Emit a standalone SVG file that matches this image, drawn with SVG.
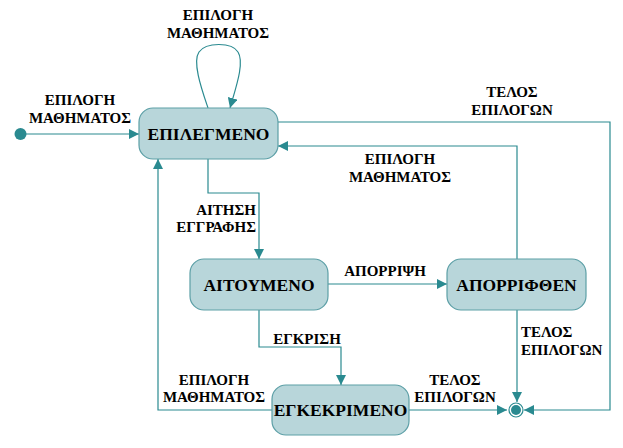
<svg xmlns="http://www.w3.org/2000/svg" width="623" height="448" viewBox="0 0 623 448">
<defs>
<marker id="arr" viewBox="0 0 10 10" refX="10" refY="5" markerWidth="10" markerHeight="10" markerUnits="userSpaceOnUse" orient="auto">
<path d="M0,0 L10,5 L0,10 Z" fill="#2a8a90"/>
</marker>
<style>
.node rect{fill:#b8d6da;stroke:#5c9fa6;stroke-width:1.2}
.nt{font-family:"Liberation Serif","Times New Roman",serif;font-weight:bold;font-size:17.5px;text-anchor:middle;fill:#000}
.lb{font-family:"Liberation Serif","Times New Roman",serif;font-weight:bold;font-size:15px;fill:#000}
.c{fill:none;stroke:#2a8a90;stroke-width:1.2}
.m{text-anchor:middle}
</style>
</defs>
<rect width="623" height="448" fill="#fff"/>
<g id="connectors">
<path class="c" d="M26,134 H139" marker-end="url(#arr)"/>
<path class="c" d="M208,108 C202,90 192,62 199,52 C206,42 232,42 238,52 C245,63 235,90 230,108" marker-end="url(#arr)"/>
<path class="c" d="M278,122 H610 V410 H524" marker-end="url(#arr)"/>
<path class="c" d="M517,259 V146 H278" marker-end="url(#arr)"/>
<path class="c" d="M208,159 V193 H259 V259" marker-end="url(#arr)"/>
<path class="c" d="M328,284 H447" marker-end="url(#arr)"/>
<path class="c" d="M259,310 V347 H341 V385" marker-end="url(#arr)"/>
<path class="c" d="M409,410 H507" marker-end="url(#arr)"/>
<path class="c" d="M517,310 V402" marker-end="url(#arr)"/>
<path class="c" d="M272,410 H158 V159" marker-end="url(#arr)"/>
</g>
<g id="labels">
<text class="lb m" x="218" y="20">ΕΠΙΛΟΓΗ</text>
<text class="lb m" x="218" y="38">ΜΑΘΗΜΑΤΟΣ</text>
<text class="lb m" x="80" y="105">ΕΠΙΛΟΓΗ</text>
<text class="lb m" x="80" y="123">ΜΑΘΗΜΑΤΟΣ</text>
<text class="lb m" x="512" y="97">ΤΕΛΟΣ</text>
<text class="lb m" x="512" y="115">ΕΠΙΛΟΓΩΝ</text>
<text class="lb m" x="400" y="164">ΕΠΙΛΟΓΗ</text>
<text class="lb m" x="400" y="182">ΜΑΘΗΜΑΤΟΣ</text>
<text class="lb" x="256" y="215" text-anchor="end">ΑΙΤΗΣΗ</text>
<text class="lb" x="256" y="232" text-anchor="end">ΕΓΓΡΑΦΗΣ</text>
<text class="lb m" x="385" y="276">ΑΠΟΡΡΙΨΗ</text>
<text class="lb m" x="307" y="344">ΕΓΚΡΙΣΗ</text>
<text class="lb" x="521" y="337">ΤΕΛΟΣ</text>
<text class="lb" x="521" y="355">ΕΠΙΛΟΓΩΝ</text>
<text class="lb m" x="455" y="385">ΤΕΛΟΣ</text>
<text class="lb m" x="455" y="402">ΕΠΙΛΟΓΩΝ</text>
<text class="lb m" x="214" y="385">ΕΠΙΛΟΓΗ</text>
<text class="lb m" x="214" y="402">ΜΑΘΗΜΑΤΟΣ</text>
</g>
<g id="initial"><circle cx="20.5" cy="134" r="6" fill="#2a8a90"/></g>
<g id="final"><circle cx="516" cy="410" r="7" fill="#fff" stroke="#2a8a90" stroke-width="1.2"/><circle cx="516" cy="410" r="5" fill="#2a8a90"/></g>
<g id="epilegmeno" class="node"><rect x="139" y="108" width="139" height="51" rx="14"/><text class="nt" x="208.5" y="140">ΕΠΙΛΕΓΜΕΝΟ</text></g>
<g id="aitoumeno" class="node"><rect x="190" y="259" width="138" height="51" rx="14"/><text class="nt" x="259" y="291">ΑΙΤΟΥΜΕΝΟ</text></g>
<g id="aporrifthen" class="node"><rect x="447" y="259" width="139" height="51" rx="14"/><text class="nt" x="516.5" y="291">ΑΠΟΡΡΙΦΘΕΝ</text></g>
<g id="egkekrimeno" class="node"><rect x="272" y="385" width="137" height="50" rx="14"/><text class="nt" x="340.5" y="416">ΕΓΚΕΚΡΙΜΕΝΟ</text></g>
</svg>
